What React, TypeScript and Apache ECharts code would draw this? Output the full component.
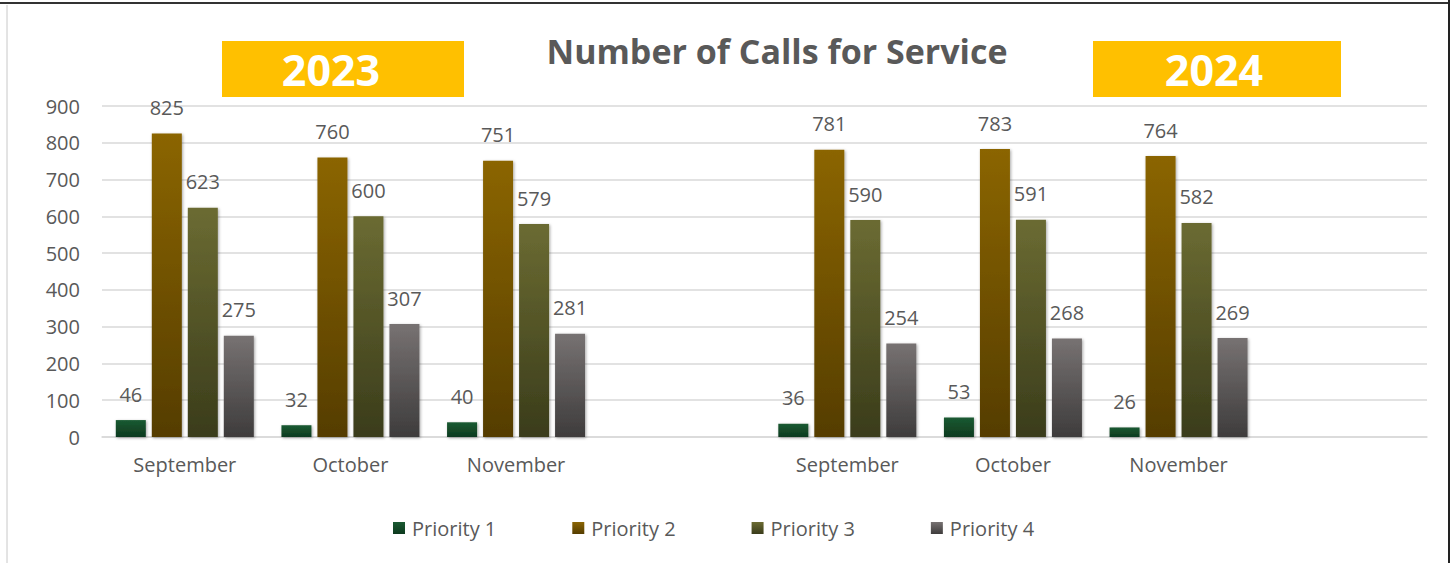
import React, { useEffect, useRef } from "react";
import * as echarts from "echarts";

const categories = ["September", "October", "November", "", "September", "October", "November", ""];
const priority1 = [46, 32, 40, null, 36, 53, 26, null];
const priority2 = [825, 760, 751, null, 781, 783, 764, null];
const priority3 = [623, 600, 579, null, 590, 591, 582, null];
const priority4 = [275, 307, 281, null, 254, 268, 269, null];
const seriesNames = ["Priority 1", "Priority 2", "Priority 3", "Priority 4"];
const yearLabels = ["2023", "2024"];

const FONT = "'Open Sans', Lato, sans-serif";
const TXT = "#595959";

const grad = (top: string, bottom: string) => ({
  type: "linear",
  x: 0,
  y: 0,
  x2: 0,
  y2: 1,
  colorStops: [
    { offset: 0, color: top },
    { offset: 1, color: bottom },
  ],
});

const colors = [
  ["#1B5A32", "#0D3A1F"],
  ["#8B6504", "#553D00"],
  ["#6B6B32", "#3A3C1B"],
  ["#777272", "#3E3C3C"],
];

export default function App() {
  const ref = useRef<HTMLDivElement>(null);
  useEffect(() => {
    if (!ref.current) return;
    const chart = echarts.init(ref.current, undefined, { renderer: "svg" });
    const data = [priority1, priority2, priority3, priority4];
    chart.setOption({
      animation: false,
      backgroundColor: "#ffffff",
      textStyle: { fontFamily: FONT },
      title: {
        text: "Number of Calls for Service",
        left: 772,
        textAlign: "center",
        top: 29,
        textStyle: { fontFamily: FONT, fontSize: 34, fontWeight: "bold", color: TXT },
      },
      legend: {
        left: 388,
        top: 513,
        icon: "rect",
        itemWidth: 12,
        itemHeight: 12,
        itemGap: 76,
        textStyle: { fontFamily: FONT, fontSize: 20, color: TXT, padding: [0, 0, 0, 2] },
        data: seriesNames,
      },
      grid: { left: 102, right: 26, top: 106, bottom: 126, containLabel: false },
      xAxis: {
        type: "category",
        data: categories,
        axisLine: { show: true, lineStyle: { color: "#D9D9D9", width: 1.5 } },
        axisTick: { show: false },
        axisLabel: { fontFamily: FONT, fontSize: 20, color: TXT, margin: 17, interval: 0 },
      },
      yAxis: {
        type: "value",
        min: 0,
        max: 900,
        interval: 100,
        axisLine: { show: false },
        axisTick: { show: false },
        axisLabel: { fontFamily: FONT, fontSize: 20, color: TXT, margin: 22 },
        splitLine: { lineStyle: { color: "#D9D9D9", width: 1.5 } },
      },
      graphic: [
        { type: "line", shape: { x1: 0, y1: 3, x2: 1449, y2: 3 }, style: { stroke: "#333", lineWidth: 2 } },
        { type: "line", shape: { x1: 1449, y1: 0, x2: 1449, y2: 563 }, style: { stroke: "#222", lineWidth: 2 } },
        { type: "line", shape: { x1: 7, y1: 5, x2: 7, y2: 563 }, style: { stroke: "#C8C8C8", lineWidth: 1 } },
        { type: "rect", shape: { x: 222, y: 41, width: 242, height: 56 }, style: { fill: "#FFC000" } },
        {
          type: "text",
          x: 331,
          y: 69,
          style: { text: yearLabels[0], fill: "#fff", font: `bold 43px ${FONT}`, align: "center", verticalAlign: "middle" },
        },
        { type: "rect", shape: { x: 1093, y: 41, width: 248, height: 56 }, style: { fill: "#FFC000" } },
        {
          type: "text",
          x: 1214,
          y: 69,
          style: { text: yearLabels[1], fill: "#fff", font: `bold 43px ${FONT}`, align: "center", verticalAlign: "middle" },
        },
      ],
      series: seriesNames.map((name, i) => ({
        name,
        type: "bar",
        data: data[i],
        barWidth: 30,
        barGap: "20%",
        itemStyle: {
          color: grad(colors[i][0], colors[i][1]),
          shadowBlur: 3,
          shadowColor: "rgba(0,0,0,0.35)",
          shadowOffsetX: 1,
          shadowOffsetY: 1,
        },
        label: {
          show: true,
          position: "top",
          distance: 16,
          fontFamily: FONT,
          fontSize: 20,
          color: TXT,
          formatter: (p: any) => (p.value == null ? "" : String(p.value)),
        },
      })),
    });
    return () => chart.dispose();
  }, []);
  return (
    <div
      ref={ref}
      style={{ position: "fixed", left: 0, top: 0, width: 1453, height: 563, background: "#fff" }}
    />
  );
}
